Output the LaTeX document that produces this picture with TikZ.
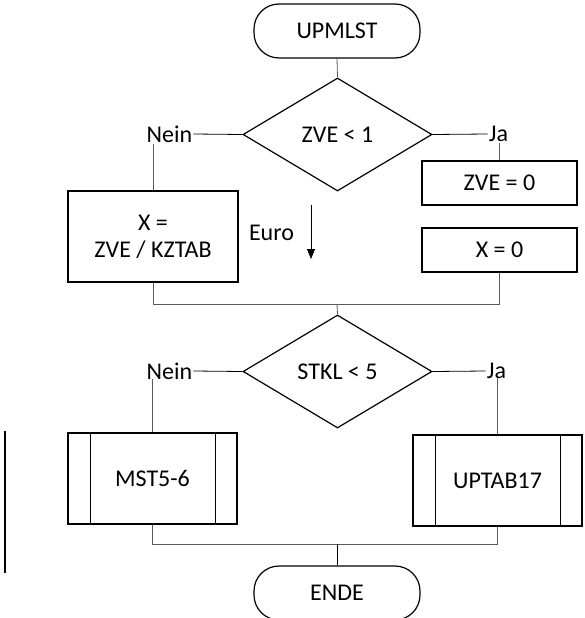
\documentclass[tikz,border=0pt]{standalone}
\usepackage{fontspec}
\setmainfont{Carlito}
\usetikzlibrary{shapes.geometric,arrows.meta}
\begin{document}
\begin{tikzpicture}[x=1pt,y=-1pt,
  every node/.style={font=\fontsize{24}{28}\selectfont},
  term/.style={draw,line width=1.2pt,rounded corners=25pt,minimum width=166pt,minimum height=54pt,inner sep=0pt},
  dec/.style={draw,line width=1.2pt,diamond,aspect=1.67,minimum width=189pt,minimum height=113pt,inner sep=0pt},
  proc/.style={draw,line width=1.2pt,rectangle,inner sep=0pt,align=center},
  sub/.style={draw,line width=1.2pt,rectangle,inner sep=0pt,minimum width=169pt,minimum height=91pt},
  lbl/.style={inner sep=1pt},
  conn/.style={draw=black!65,line width=0.8pt},
  hconn/.style={draw=black,line width=0.8pt}]
\useasboundingbox (0,0) rectangle (584,618);
% nodes
\node[term] (start) at (337,31) {UPMLST};
\node[dec] (d1) at (337.5,134.5) {ZVE < 1};
\node[lbl] (nein1) at (169.5,134) {Nein};
\node[lbl] (ja1) at (498.5,134) {Ja};
\node[proc,minimum width=170pt,minimum height=91pt] (b1) at (153,236.5) {X =\\[-1pt]ZVE / KZTAB};
\node[proc,minimum width=155pt,minimum height=44pt] (b2) at (499.5,183) {ZVE = 0};
\node[proc,minimum width=155pt,minimum height=44pt] (b3) at (499.5,250) {X = 0};
\node[lbl] (euro) at (271.5,233) {Euro};
\coordinate (eurotop) at (311,205);
\coordinate (eurobot) at (311,259);
\coordinate (j1) at (337,304);
\node[dec] (d2) at (337.5,371.5) {STKL < 5};
\node[lbl] (nein2) at (169.5,371) {Nein};
\node[lbl] (ja2) at (496.5,371) {Ja};
\node[sub] (s1) at (152.5,478.5) {MST5-6};
\node[sub] (s2) at (497.5,480.5) {UPTAB17};
\coordinate (j2) at (337,544);
\node[term] (ende) at (337,593) {ENDE};
% subroutine inner lines
\foreach \n in {s1,s2}{
  \draw[line width=1.2pt] ([xshift=23pt]\n.north west) -- ([xshift=23pt]\n.south west);
  \draw[line width=1.2pt] ([xshift=-22pt]\n.north east) -- ([xshift=-22pt]\n.south east);
}
% connectors
\draw[conn] (start.south) -- (d1.north);
\draw[hconn] (d1.west) -- (nein1.east);
\draw[hconn] (d1.east) -- (ja1.west);
\draw[conn] (nein1.south -| b1.north) -- (b1.north);
\draw[conn] (ja1.south -| b2.north) -- (b2.north);
\draw[conn] (b1.south) -- (b1.south |- j1) -- (b3.south |- j1) -- (b3.south);
\draw[conn] (j1) -- (d2.north);
\draw[-{Triangle[length=10pt,width=8pt]},line width=0.8pt,draw=black,fill=black] (eurotop) -- (eurobot);
\draw[hconn] (d2.west) -- (nein2.east);
\draw[hconn] (d2.east) -- (ja2.west);
\draw[conn] ([yshift=2pt]nein2.south -| s1.north) -- (s1.north);
\draw[conn] ([yshift=2pt]ja2.south -| s2.north) -- (s2.north);
\draw[conn] (s1.south) -- (s1.south |- j2) -- (s2.south |- j2) -- (s2.south);
\draw[conn,draw=black] (j2) -- (ende.north);
% left bar
\draw[line width=2pt] (5,431) -- (5,573);
\end{tikzpicture}
\end{document}
